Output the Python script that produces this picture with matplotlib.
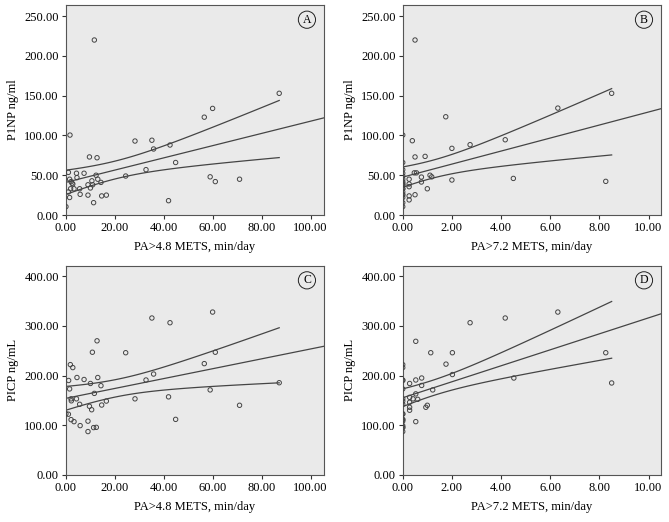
import numpy as np
import matplotlib
matplotlib.use("Agg")
import matplotlib.pyplot as plt

plt.rcParams['font.family'] = ['Liberation Serif', 'DejaVu Serif']
plt.rcParams['font.size'] = 9

# panel A: PA>4.8 METS vs P1NP
a_x = [0.1, 1.1, 1.1, 1.6, 1.6, 1.75, 2.2, 2.6, 2.9, 2.0, 3.4, 4.4, 4.6, 5.7, 5.9, 7.5,
       9.1, 9.1, 9.7, 10.1, 10.7, 11.0, 11.4, 11.7, 12.4, 12.8, 13.1, 14.4, 14.7, 16.6,
       24.5, 28.3, 32.8, 35.2, 35.9, 42.0, 42.6, 44.9, 56.6, 59.0, 60.0, 61.1, 71.0, 87.2]
a_y = [10.5, 53.6, 29, 22, 45, 100.5, 42, 40, 39, 33, 33, 52.5, 47, 33, 26, 52.5,
       38, 25, 73, 34, 43, 38, 15.5, 220, 50, 72, 45, 41, 24, 25,
       49, 93, 57, 94, 83, 18, 88, 66, 123, 48, 134, 42, 45, 153]

# panel B: PA>7.2 METS vs P1NP
b_x = [0.5, 0.39, 0.5, 0.91, 0.47, 0.56, 0.26, 0.26, 0.26, 0.26, 0.26, 0.5, 0.76, 0.76,
       1.0, 1.11, 1.18, 1.75, 2.0, 2.0, 2.74, 4.17, 4.5, 6.31, 8.26, 8.5] + [0.0] * 18
b_y = [220, 93.4, 73, 73.7, 53, 53, 45, 39, 35.6, 24, 19, 25.5, 47.7, 41.5,
       33, 50, 48, 123.5, 83.8, 44, 88.4, 94.6, 46, 134.4, 42.3, 153,
       10.5, 15.5, 22, 25, 26, 29, 33, 33, 38, 38, 40, 42, 45, 49, 52.5, 57, 66, 100.5]

# panel C: PA>4.8 METS vs PICP
c_x = [0.1, 1.1, 1.2, 1.6, 1.9, 2.2, 2.3, 2.2, 2.9, 3.4, 4.4, 4.6, 5.7, 5.9, 7.5,
       9.1, 9.1, 9.7, 10.1, 10.6, 10.9, 11.4, 11.7, 12.5, 12.8, 13.1, 14.4, 14.7, 16.6,
       24.5, 28.3, 32.8, 35.2, 35.9, 42.0, 42.6, 44.9, 56.6, 59.0, 60.0, 61.1, 71.0, 87.2]
c_y = [123, 122, 190, 173, 222, 153, 149, 111, 216, 107, 153, 196, 142, 99, 192,
       108, 87, 138, 184, 131, 247, 95, 164, 95.5, 270, 196, 179.5, 140.5, 148.5,
       246, 153, 191, 316, 203, 157, 306.5, 111.6, 224, 171, 328, 247, 140, 185.5]

# panel D: PA>7.2 METS vs PICP
d_x = [0.53, 1.14, 2.74, 4.17, 6.31, 2.02, 1.76, 0.77, 0.53, 0.28, 2.02, 0.77, 1.22,
       0.53, 0.28, 0.42, 0.61, 0.28, 0.28, 0.28, 0.94, 1.0, 0.53, 4.52, 8.26, 8.5] + [0.0] * 17
d_y = [269, 246, 306.5, 316, 328, 246, 223, 195, 191, 184, 202, 180, 171,
       163, 156, 153, 152, 146, 136, 130, 136, 140, 107, 195, 246, 185,
       123, 122, 190, 173, 222, 111, 216, 142, 99, 108, 87, 95, 95.5, 148.5, 153, 191, 111.6]

panels = [
    (a_x, a_y, "PA>4.8 METS, min/day", "P1NP ng/ml", "A", 105.6, 264, 20, 50),
    (b_x, b_y, "PA>7.2 METS, min/day", "P1NP ng/ml", "B", 10.52, 264, 2, 50),
    (c_x, c_y, "PA>4.8 METS, min/day", "PICP ng/mL", "C", 105.6, 421.5, 20, 100),
    (d_x, d_y, "PA>7.2 METS, min/day", "PICP ng/mL", "D", 10.52, 421.5, 2, 100),
]
boxes = [[0.0982, 0.5881, 0.3865, 0.4023], [0.602, 0.5881, 0.3865, 0.4023],
         [0.0982, 0.0906, 0.3865, 0.4004], [0.602, 0.0906, 0.3865, 0.4004]]

fig = plt.figure(figsize=(6.69, 5.22), dpi=100)
linec = '#454545'
for (x, y, xl, yl, tag, xmax, ymax, xstep, ystep), box in zip(panels, boxes):
    ax = fig.add_axes(box)
    ax.set_facecolor('#eaeaea')
    x = np.array(x, float)
    y = np.array(y, float)
    n = len(x)
    # linear fit with 95% confidence band of the mean
    b, a = np.polyfit(x, y, 1)
    resid = y - (a + b * x)
    s = np.sqrt(np.sum(resid ** 2) / (n - 2))
    sxx = np.sum((x - x.mean()) ** 2)
    t = 2.02
    xs = np.linspace(x.min(), x.max(), 100)
    se = s * np.sqrt(1.0 / n + (xs - x.mean()) ** 2 / sxx)
    fit = a + b * xs
    ax.plot(xs, fit + t * se, color=linec, lw=0.9)
    ax.plot(xs, fit - t * se, color=linec, lw=0.9)
    xf = np.array([0, xmax])
    ax.plot(xf, a + b * xf, color=linec, lw=0.9)
    ax.scatter(x, y, s=10, facecolors='none', edgecolors='#444444', linewidths=0.7, zorder=3)
    ax.set_xlim(0, xmax)
    ax.set_ylim(0, ymax)
    ax.set_xticks(np.arange(0, xmax, xstep))
    ax.set_yticks(np.arange(0, ymax, ystep))
    ax.xaxis.set_major_formatter(matplotlib.ticker.FormatStrFormatter('%.2f'))
    ax.yaxis.set_major_formatter(matplotlib.ticker.FormatStrFormatter('%.2f'))
    ax.tick_params(direction='out', length=3, width=0.8, color='#333333', labelsize=9, pad=2)
    for sp in ax.spines.values():
        sp.set_color('#555555')
        sp.set_linewidth(0.8)
    ax.set_xlabel(xl, fontsize=9, labelpad=5)
    ax.set_ylabel(yl, fontsize=9, labelpad=4)
    ax.text(0.933, 0.93, tag, transform=ax.transAxes, ha='center', va='center', fontsize=8.5,
            bbox=dict(boxstyle='circle,pad=0.22', fc='none', ec='#222222', lw=0.7))

fig.savefig('out.png', dpi=100)
